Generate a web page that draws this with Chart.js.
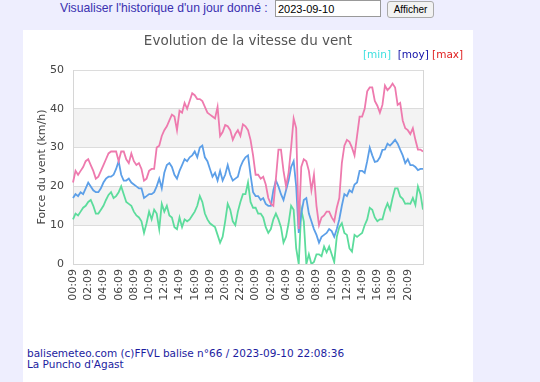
<!DOCTYPE html>
<html>
<head>
<meta charset="utf-8">
<script src="https://cdn.jsdelivr.net/npm/chart.js@4"></script>
<style>
body { margin: 0; background: #eeeefe; width: 540px; height: 382px; overflow: hidden; position: relative; }
#form { position: absolute; top: 0; left: 60px; font: 12.2px "Liberation Sans", Arial, sans-serif; color: #3a30b0; }
#form span { position: absolute; top: 1px; left: 0; white-space: nowrap; }
#day { position: absolute; left: 215px; top: 0; width: 100px; height: 15px; border: 1px solid #999; padding: 0 2px; font: 11px "Liberation Sans", Arial, sans-serif; color: #000; }
#btn { position: absolute; left: 327px; top: 1px; width: 47px; height: 17px; border: 1px solid #aaa; border-radius: 3px; background: #f2f2f2; font: 10px "Liberation Sans", Arial, sans-serif; color: #000; padding: 0; }
#panel { position: absolute; left: 23px; top: 30px; width: 450px; height: 352px; background: #fff; }
#box { position: absolute; left: 0; top: 0; width: 450px; height: 290px; }
#legend { position: absolute; left: 340px; top: 18px; font: 10.5px "DejaVu Sans", sans-serif; white-space: nowrap; }
#foot { position: absolute; left: 4px; top: 318px; font: 10.5px/11px "DejaVu Sans", sans-serif; color: #1c1ca0; white-space: nowrap; }
</style>
</head>
<body>
<div id="form">
  <span>Visualiser l'historique d'un jour donné :</span>
  <input id="day" type="text" value="2023-09-10">
  <button id="btn">Afficher</button>
</div>
<div id="panel">
  <div id="box"><canvas id="windChart"></canvas></div>
  <div id="legend"><span style="color:#3ee0e0">[min]</span>&nbsp; <span style="color:#1010a8">[moy]</span> <span style="color:#e02020">[max]</span></div>
  <div id="foot">balisemeteo.com (c)FFVL balise n°66 / 2023-09-10 22:08:36<br>La Puncho d'Agast</div>
</div>
<script>
// one point every 20 min, from 00:09 day 1 to 22:09 day 2
const tickLabels = ['00:09', '02:09', '04:09', '06:09', '08:09', '10:09', '12:09', '14:09', '16:09', '18:09', '20:09', '22:09',
    '00:09', '02:09', '04:09', '06:09', '08:09', '10:09', '12:09', '14:09', '16:09', '18:09', '20:09'];

const maxSpeed = [21, 24, 23, 24, 25, 26.5, 27, 25.5, 24, 22, 22.5, 24,
    25.5, 27, 28.5, 29, 29, 29, 26.5, 29, 29, 27, 26, 28.5,
    26.5, 25.5, 26, 24.5, 21.5, 22, 24, 24.5, 24.5, 30, 30.5, 33,
    34.5, 35.5, 37, 38.5, 38, 34.5, 39.5, 39, 41.5, 40, 42, 44,
    43.5, 42.5, 42.5, 42, 40.5, 39, 38.5, 38, 37.5, 40.5, 33, 34,
    35.8, 35.5, 34.5, 32, 33.5, 34.5, 33, 36, 35.5, 34.5, 32, 28,
    23, 23, 22, 22.5, 20.5, 17, 15.5, 15, 22, 29.5, 29.5, 24,
    20, 23.5, 30, 37.5, 35, 9, 25, 27, 26.5, 24, 19, 23,
    15, 10, 12, 12.5, 13.5, 13.5, 12, 11, 14.5, 17, 26, 30.5,
    32, 31.5, 30, 28, 33, 38, 38, 40, 44.5, 45.5, 45.5, 42,
    40.8, 39, 41, 46, 44.8, 45.5, 46.5, 45.5, 41, 41.5, 37, 35,
    34.5, 33.5, 35, 32, 29.5, 29.5, 29];

const avgSpeed = [17, 18, 17.5, 18.5, 18, 19.5, 21, 20, 19, 18.5, 18.5, 19.5,
    21, 22, 22.5, 22.5, 23, 24.5, 26.5, 23, 21.5, 21.5, 22, 21,
    20.5, 20, 19.5, 19.5, 17, 17.5, 18, 18, 18.5, 20, 22, 19.5,
    23.5, 25.5, 26, 25, 23, 22, 24, 25.5, 27, 26.5, 27.5, 28,
    29, 27.5, 30, 30.5, 27.5, 26.5, 24.5, 22.5, 23.5, 21.5, 24, 21.5,
    23, 25.5, 23, 21.5, 22, 22.5, 25, 26.5, 27.5, 28, 23, 18.5,
    17.5, 17.5, 16.5, 17, 15.5, 15, 15, 19, 21.5, 20, 18, 16.5,
    19, 21.5, 25, 26.5, 20, 8, 13, 16.5, 17, 13, 11, 9,
    7.5, 5.5, 7, 7.5, 8, 9, 8.5, 7, 9, 11.5, 15, 18,
    17.5, 19, 18.5, 20.5, 21, 24, 24, 23.5, 26.5, 30, 28, 26.3,
    26.5, 27.5, 29.4, 29.5, 31, 30.5, 31.2, 32, 31, 29.5, 28, 26,
    27, 25.5, 25.5, 25, 24.2, 24.5, 24.5];

const minSpeed = [11.5, 13, 12.5, 13.5, 14.5, 15, 16, 16.5, 15, 13, 13, 14,
    15, 16.5, 17.8, 18.5, 17, 17.5, 18.5, 20, 18, 16, 15.5, 15,
    13.5, 12.5, 12, 11, 8, 10.5, 13.5, 11.5, 14, 13, 9, 15.5,
    13.5, 15, 12.5, 12, 9.5, 9, 12, 9.5, 11.5, 11, 11.5, 12.5,
    13.5, 15, 17.5, 16, 13, 11.5, 10.5, 10, 9.5, 7.5, 5.5, 7,
    11, 15.5, 14, 11, 10, 13.5, 16, 18, 18, 21, 16, 14.5,
    14.5, 13, 13, 12, 9.5, 8, 9, 11.5, 13, 11.5, 9.5, 5.5,
    7, 10.5, 15, 14, 4, 0, 14, 11, 0, 2.5, 0, 0.5,
    2.5, 2.5, 2, 4.5, 3, 4.5, 2.5, 0.5, 7, 9.5, 10.5, 8,
    7.5, 4, 3.2, 7.5, 7, 7.5, 8, 10, 11.5, 14.5, 14, 12,
    11, 11.5, 11.5, 14, 15.6, 14, 17, 19.5, 19.5, 17.4, 16.8, 15.5,
    15.6, 15.5, 17, 15.2, 20, 18, 14];

// category labels: every 20 min, the shown tick labels every 6th point
const times = [];
for (let i = 0; i < maxSpeed.length; i++) {
    const m = 9 + i * 20;
    const h = Math.floor(m / 60) % 24;
    const mm = m % 60;
    times.push(String(h).padStart(2, '0') + ':' + String(mm).padStart(2, '0'));
}

const bandsPlugin = {
    id: 'bands',
    beforeDraw(chart) {
        const { ctx, chartArea, scales } = chart;
        const y = scales.y;
        ctx.save();
        ctx.fillStyle = '#f3f3f3';
        [[10, 20], [30, 40]].forEach(function (b) {
            const top = y.getPixelForValue(b[1]);
            const bottom = y.getPixelForValue(b[0]);
            ctx.fillRect(chartArea.left, top, chartArea.right - chartArea.left, bottom - top);
        });
        ctx.restore();
    },
    afterDraw(chart) {
        const { ctx, chartArea } = chart;
        ctx.save();
        ctx.strokeStyle = '#d6d6d6';
        ctx.lineWidth = 1;
        ctx.beginPath();
        ctx.moveTo(Math.round(chartArea.right) + 0.5, chartArea.top);
        ctx.lineTo(Math.round(chartArea.right) + 0.5, chartArea.bottom);
        ctx.stroke();
        ctx.restore();
    }
};

const font = { family: '"DejaVu Sans", sans-serif', size: 11 };

new Chart(document.getElementById('windChart'), {
    type: 'line',
    data: {
        labels: times,
        datasets: [{
            label: 'max',
            data: maxSpeed,
            borderColor: '#ee7aae',
            borderWidth: 1.8,
            pointRadius: 0,
            tension: 0
        }, {
            label: 'moy',
            data: avgSpeed,
            borderColor: '#5c9fe8',
            borderWidth: 1.8,
            pointRadius: 0,
            tension: 0
        }, {
            label: 'min',
            data: minSpeed,
            borderColor: '#5cdc9c',
            borderWidth: 1.8,
            pointRadius: 0,
            tension: 0
        }]
    },
    options: {
        responsive: true,
        maintainAspectRatio: false,
        animation: false,
        layout: { padding: 0 },
        plugins: {
            legend: { display: false },
            tooltip: { enabled: false },
            title: {
                display: true,
                text: 'Evolution de la vitesse du vent',
                color: '#555',
                font: { family: '"DejaVu Sans", sans-serif', size: 13.5, weight: 'normal' },
                padding: { top: 3, bottom: 20.8 }
            }
        },
        scales: {
            x: {
                grid: { display: false, drawTicks: false },
                border: { display: true, color: '#d6d6d6' },
                ticks: {
                    autoSkip: false,
                    minRotation: 90,
                    maxRotation: 90,
                    padding: 5,
                    color: '#444',
                    font: font,
                    callback: function (v, i) {
                        return i % 6 === 0 && tickLabels[i / 6] ? tickLabels[i / 6] : null;
                    }
                },
                afterFit: function (scale) { scale.height = 56; }
            },
            y: {
                min: 0,
                max: 50,
                grid: { color: '#dcdcdc', drawTicks: false },
                border: { display: true, color: '#d6d6d6' },
                ticks: { stepSize: 10, padding: 9, color: '#444', font: font },
                title: {
                    display: true,
                    text: 'Force du vent (km/h)',
                    color: '#444',
                    font: font,
                    padding: { top: 13, bottom: 0 }
                },
                afterFit: function (scale) { scale.width = 50; }
            },
            // empty right margin so the title stays centred on the panel
            yRight: {
                position: 'right',
                min: 0,
                max: 50,
                grid: { display: false, drawTicks: false },
                border: { display: false },
                ticks: { display: false },
                afterFit: function (scale) { scale.width = 50; }
            }
        }
    },
    plugins: [bandsPlugin]
});
</script>
</body>
</html>
